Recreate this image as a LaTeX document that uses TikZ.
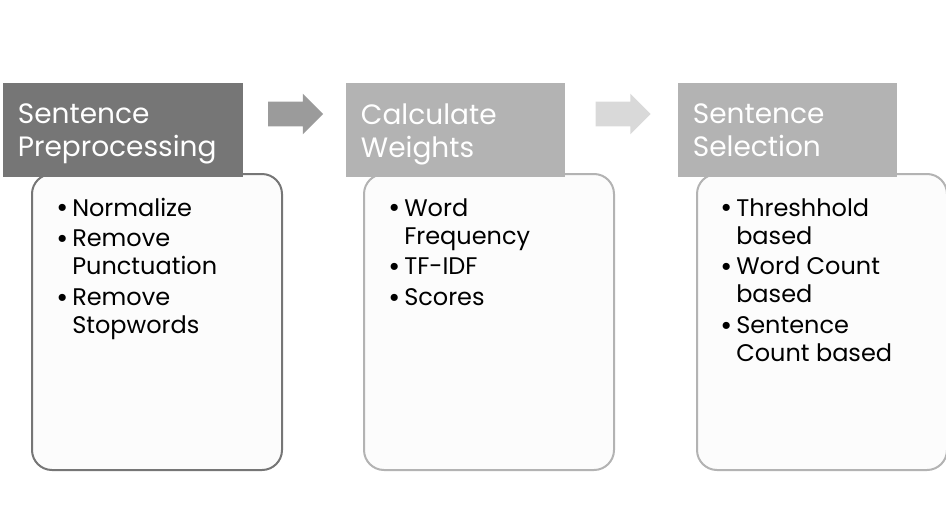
\documentclass[tikz,border=0pt]{standalone}
\usepackage{fontspec}
\setmainfont{Poppins}
\usetikzlibrary{positioning, shapes.arrows}

\definecolor{headdark}{HTML}{767676}
\definecolor{headlight}{HTML}{B3B3B3}
\definecolor{arrowmid}{HTML}{9B9B9B}
\definecolor{arrowlight}{HTML}{D9D9D9}
\definecolor{boxfill}{HTML}{FCFCFC}

\tikzset{
  header/.style={fill=#1, text=white, anchor=north west, minimum height=70.5pt,
    inner xsep=11pt, align=left, font=\fontsize{21}{24.75}\selectfont},
  listbox/.style={draw=#1, line width=1.5pt, fill=boxfill, rounded corners=15pt,
    anchor=north west, minimum width=187.5pt, minimum height=222pt},
  listtext/.style={anchor=base west, inner sep=0pt, font=\fontsize{18}{21}\selectfont},
  blockarrow/.style={single arrow, fill=#1, draw=none, inner xsep=0pt, inner ysep=9pt,
    single arrow head extend=6pt, minimum height=41.25pt}
}
\newcommand{\bitem}[1]{\makebox[12pt][l]{\raisebox{-0.08em}{\scalebox{1.2}{\textbullet}}}&#1}

\begin{document}
\begin{tikzpicture}[x=0.75pt, y=-0.75pt]
\useasboundingbox (0,0) rectangle (946,525);
% boxes under the headers
\node[listbox=headdark] (prebox) at (31,173) {};
\node[listbox=headlight] (wbox) at (363,173) {};
\node[listbox=headlight] (selbox) at (696,173) {};
% headers
\node[header=headdark, text width=158pt] (prehead) at (3,83) {Sentence\\\smash{Preprocessing}};
\node[header=headlight, text width=142pt] (whead) at (346,83) {Calculate\\\smash{Weights}};
\node[header=headlight, text width=142pt] (selhead) at (678,83) {Sentence\\\smash{Selection}};
% arrows
\node[blockarrow=arrowmid] (arr1) at (289.5,114) {};
\node[blockarrow=arrowlight] (arr2) at (617,114) {};
% lists
\node[listtext] (prelist) at (56,216) {\begin{tabular}[t]{@{}l@{}l@{}}
  \bitem{Normalize}\\[2pt]
  \bitem{Remove}\\ &Punctuation\\[2pt]
  \bitem{Remove}\\ &Stopwords
\end{tabular}};
\node[listtext] (wlist) at (388,216) {\begin{tabular}[t]{@{}l@{}l@{}}
  \bitem{Word}\\ &Frequency\\[2pt]
  \bitem{TF-IDF}\\[2pt]
  \bitem{Scores}
\end{tabular}};
\node[listtext] (sellist) at (720,216) {\begin{tabular}[t]{@{}l@{}l@{}}
  \bitem{Threshhold}\\ &based\\[2pt]
  \bitem{Word Count}\\ &based\\[2pt]
  \bitem{Sentence}\\ &Count based
\end{tabular}};
\end{tikzpicture}
\end{document}
